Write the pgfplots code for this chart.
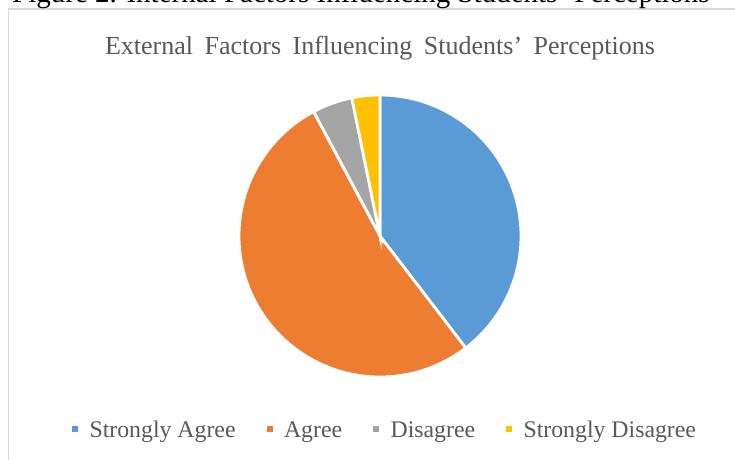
\documentclass[border=0pt]{standalone}
\usepackage{pgfplots}
\pgfplotsset{compat=1.18}
\usepackage{pgfplotstable}
\usepackage{fontspec}
\setmainfont{Liberation Serif}
\definecolor{cSA}{HTML}{5B9BD5}
\definecolor{cA}{HTML}{ED7D31}
\definecolor{cD}{HTML}{A5A5A5}
\definecolor{cSD}{HTML}{FFC000}
\definecolor{cText}{HTML}{595959}
\definecolor{cBorder}{HTML}{D9D9D9}
\pgfplotstableread{
label value
SA 39.6
A 52.6
D 4.6
SD 3.2
}\piedata
\begin{document}
\begin{tikzpicture}[x=1pt,y=1pt]
\pgfplotstablegetelem{0}{value}\of\piedata \let\vSA\pgfplotsretval
\pgfplotstablegetelem{1}{value}\of\piedata \let\vA\pgfplotsretval
\pgfplotstablegetelem{2}{value}\of\piedata \let\vD\pgfplotsretval
\pgfplotstablegetelem{3}{value}\of\piedata \let\vSD\pgfplotsretval
\pgfmathsetmacro{\aZero}{90}
\pgfmathsetmacro{\aOne}{\aZero-3.6*\vSA}
\pgfmathsetmacro{\aTwo}{\aOne-3.6*\vA}
\pgfmathsetmacro{\aThree}{\aTwo-3.6*\vD}
\pgfmathsetmacro{\aFour}{\aThree-3.6*\vSD}
\clip (0,0) rectangle (735,459);
\fill[white] (0,0) rectangle (735,459);
\draw[color=cBorder, line width=1.3pt] (8.5,-20) rectangle (800,450);
\node[anchor=base west, inner sep=0pt, font=\fontsize{29}{31}\selectfont] at (12,456.5) {Figure 2. Internal Factors Influencing Students’ Perceptions};
\node[anchor=base, inner sep=0pt, text=cText, font=\fontsize{26}{28}\selectfont] at (380,405) {\spaceskip=11.5pt External Factors Influencing Students’ Perceptions};
\begin{axis}[x=1pt, y=1pt, xmin=-142, xmax=142, ymin=-142, ymax=142,
  at={(380,223)}, anchor=center, hide axis, clip=false,
  legend columns=4,
  legend style={at={(0.518,-0.183)}, anchor=center, draw=none, fill=none,
    font=\fontsize{23.8}{25}\selectfont, text=cText,
    column sep=0pt,
    /tikz/every even column/.append style={column sep=29pt}},
  legend image code/.code={\fill[#1, draw=none] (0pt,-2.5pt) rectangle (6pt,3.5pt); \path (14pt,0pt);},
]
\addplot[fill=cSA, draw=white, line width=2.8pt, domain=\aOne:\aZero, samples=120] ({141*cos(x)},{141*sin(x)}) -- (axis cs:0,0) -- cycle;
\addlegendentry{Strongly Agree}
\addplot[fill=cA, draw=white, line width=2.8pt, domain=\aTwo:\aOne, samples=150] ({141*cos(x)},{141*sin(x)}) -- (axis cs:0,0) -- cycle;
\addlegendentry{Agree}
\addplot[fill=cD, draw=white, line width=2.8pt, domain=\aThree:\aTwo, samples=20] ({141*cos(x)},{141*sin(x)}) -- (axis cs:0,0) -- cycle;
\addlegendentry{Disagree}
\addplot[fill=cSD, draw=white, line width=2.8pt, domain=\aFour:\aThree, samples=20] ({141*cos(x)},{141*sin(x)}) -- (axis cs:0,0) -- cycle;
\addlegendentry{Strongly Disagree}
\end{axis}
\end{tikzpicture}
\end{document}
